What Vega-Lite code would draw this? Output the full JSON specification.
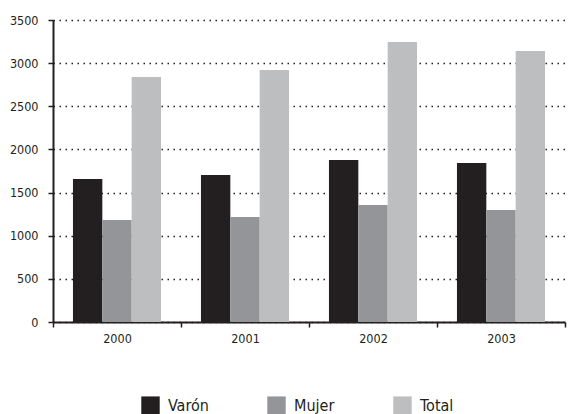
{
  "$schema": "https://vega.github.io/schema/vega-lite/v6.json",
  "autosize": {"type": "none"},
  "width": 512,
  "height": 302,
  "padding": {"left": 53, "top": 20, "right": 7, "bottom": 92},
  "background": "white",
  "config": {
    "view": {"stroke": null},
    "font": "Liberation Sans Narrow, DejaVu Sans Condensed, sans-serif"
  },
  "data": {
    "values": [
      {"anio": "2000", "serie": "Varón", "valor": 1657},
      {"anio": "2000", "serie": "Mujer", "valor": 1182},
      {"anio": "2000", "serie": "Total", "valor": 2839},
      {"anio": "2001", "serie": "Varón", "valor": 1704},
      {"anio": "2001", "serie": "Mujer", "valor": 1217},
      {"anio": "2001", "serie": "Total", "valor": 2921},
      {"anio": "2002", "serie": "Varón", "valor": 1877},
      {"anio": "2002", "serie": "Mujer", "valor": 1356},
      {"anio": "2002", "serie": "Total", "valor": 3245},
      {"anio": "2003", "serie": "Varón", "valor": 1843},
      {"anio": "2003", "serie": "Mujer", "valor": 1298},
      {"anio": "2003", "serie": "Total", "valor": 3141}
    ]
  },
  "mark": {"type": "bar"},
  "encoding": {
    "x": {
      "field": "anio", "type": "nominal",
      "scale": {"paddingInner": 0, "paddingOuter": 0},
      "axis": {
        "title": null, "labelAngle": 0, "grid": false,
        "domainColor": "#231f20", "domainWidth": 2,
        "tickColor": "#231f20", "tickWidth": 1.5, "tickSize": 5,
        "tickBand": "extent",
        "labelFontSize": 12.5, "labelColor": "#231f20", "labelPadding": 5
      }
    },
    "xOffset": {
      "field": "serie", "type": "nominal",
      "sort": ["Varón", "Mujer", "Total"],
      "scale": {"paddingInner": 0, "paddingOuter": 0.68}
    },
    "y": {
      "field": "valor", "type": "quantitative",
      "scale": {"domain": [0, 3500], "nice": false},
      "axis": {
        "title": null, "values": [0, 500, 1000, 1500, 2000, 2500, 3000, 3500],
        "format": "d",
        "grid": true, "gridColor": "#231f20", "gridDash": [1.5, 4.5], "gridWidth": 1.5,
        "domainColor": "#231f20", "domainWidth": 2,
        "tickColor": "#231f20", "tickWidth": 1.5, "tickSize": 5,
        "labelFontSize": 12.5, "labelColor": "#231f20", "labelPadding": 10
      }
    },
    "color": {
      "field": "serie", "type": "nominal",
      "sort": ["Varón", "Mujer", "Total"],
      "scale": {"domain": ["Varón", "Mujer", "Total"], "range": ["#231f20", "#939598", "#bcbec0"]},
      "legend": {
        "title": null, "orient": "none", "legendX": 88, "legendY": 376,
        "direction": "horizontal",
        "symbolType": "square", "symbolSize": 340, "symbolStrokeWidth": 0,
        "labelFontSize": 16, "labelColor": "#231f20", "labelOffset": 8,
        "columnPadding": 58
      }
    }
  }
}
